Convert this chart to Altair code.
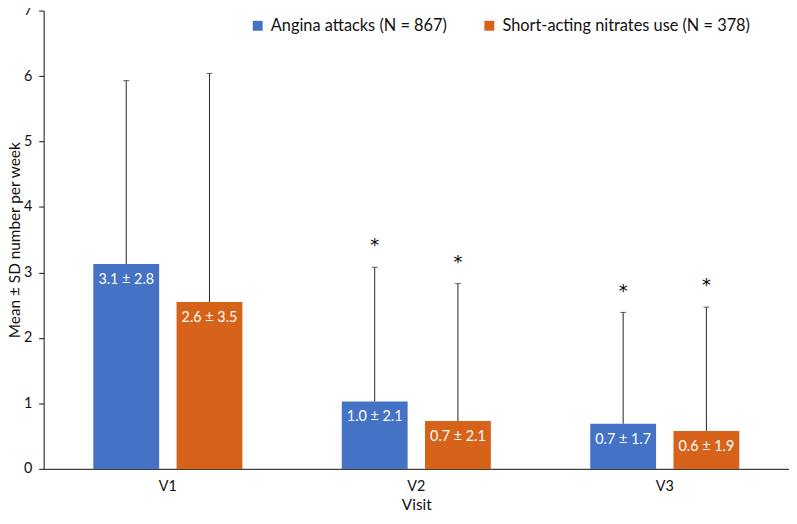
import altair as alt
import pandas as pd

visits = ["V1", "V2", "V3"]
series = ["Angina attacks (N = 867)", "Short-acting nitrates use (N = 378)"]

angina_mean = [3.13, 1.03, 0.69]
angina_sd = [2.8, 2.05, 1.7]
angina_label = ["3.1 ± 2.8", "1.0 ± 2.1", "0.7 ± 1.7"]

nitrates_mean = [2.55, 0.73, 0.58]
nitrates_sd = [3.49, 2.1, 1.89]
nitrates_label = ["2.6 ± 3.5", "0.7 ± 2.1", "0.6 ± 1.9"]

significant = ["", "*", "*"]

colors = ["#4472C4", "#D7621A"]

rows = []
for i, v in enumerate(visits):
    rows.append(dict(visit=v, series=series[0], mean=angina_mean[i], sd=angina_sd[i],
                     label=angina_label[i], star=significant[i]))
    rows.append(dict(visit=v, series=series[1], mean=nitrates_mean[i], sd=nitrates_sd[i],
                     label=nitrates_label[i], star=significant[i]))
df = pd.DataFrame(rows)
df["upper"] = df["mean"] + df["sd"]

FONT = "Lato"
PLOT_H = 463

x_enc = alt.X(
    "visit:N",
    sort=visits,
    scale=alt.Scale(paddingInner=0.4, paddingOuter=0.2),
    axis=alt.Axis(
        title="Visit", labelAngle=0, ticks=False, domainColor="#404040", domainWidth=1.5,
        labelPadding=11, labelFont=FONT, labelFontSize=14.5, labelColor="#111",
        titleFont=FONT, titleFontSize=15.5, titleFontWeight="normal", titleColor="#111",
        titleY=29, titleBaseline="top",
    ),
)
xo_enc = alt.XOffset("series:N", sort=series, scale=alt.Scale(paddingInner=0.209, paddingOuter=0))

y_scale = alt.Scale(domain=[0, 7], nice=False)

base = alt.Chart(df).encode(x=x_enc, xOffset=xo_enc)

bars = base.mark_bar().encode(
    y=alt.Y(
        "mean:Q", scale=y_scale,
        axis=alt.Axis(
            values=[0, 1, 2, 3, 4, 5, 6, 7], format="d", grid=False, domainColor="#111",
            tickColor="#111", tickSize=5, labelPadding=7, labelFont=FONT, labelFontSize=14.5,
            labelColor="#111",
            title="Mean ± SD number per week", titleFont=FONT, titleFontSize=15.5,
            titleFontWeight="normal", titleColor="#111", titleAngle=270,
            titleX=-21, titleY=PLOT_H / 2, titleBaseline="bottom", titleAlign="center",
        ),
    ),
    color=alt.Color(
        "series:N",
        scale=alt.Scale(domain=series, range=colors),
        legend=alt.Legend(
            title=None, orient="none", legendX=208, legendY=7, direction="horizontal",
            symbolType="square", symbolSize=100, symbolStrokeWidth=0,
            labelFont=FONT, labelFontSize=16.5, labelColor="#111", labelLimit=0,
            columnPadding=34, labelOffset=5,
        ),
    ),
)

rules = base.mark_rule(color="#222", strokeWidth=1).encode(
    y=alt.Y("mean:Q", scale=y_scale), y2="upper:Q"
)

caps = base.mark_tick(color="#222", thickness=1, size=6).encode(
    y=alt.Y("upper:Q", scale=y_scale)
)

labels = base.mark_text(color="white", dy=16, fontSize=14.5, font=FONT, baseline="middle").encode(
    y=alt.Y("mean:Q", scale=y_scale), text="label:N"
)

stars = base.mark_text(color="#000000", dy=-21, fontSize=18, font="DejaVu Sans",
                       baseline="middle").encode(
    y=alt.Y("upper:Q", scale=y_scale), text="star:N"
)

chart = (
    alt.layer(bars, rules, caps, labels, stars)
    .properties(
        width=753, height=PLOT_H,
        padding={"left": 36, "top": 0, "right": 0, "bottom": 45},
        autosize=alt.AutoSizeParams(type="none"),
    )
    .configure_view(stroke=None)
)

chart.save("out.html", embed_options={"renderer": "svg", "actions": False})
